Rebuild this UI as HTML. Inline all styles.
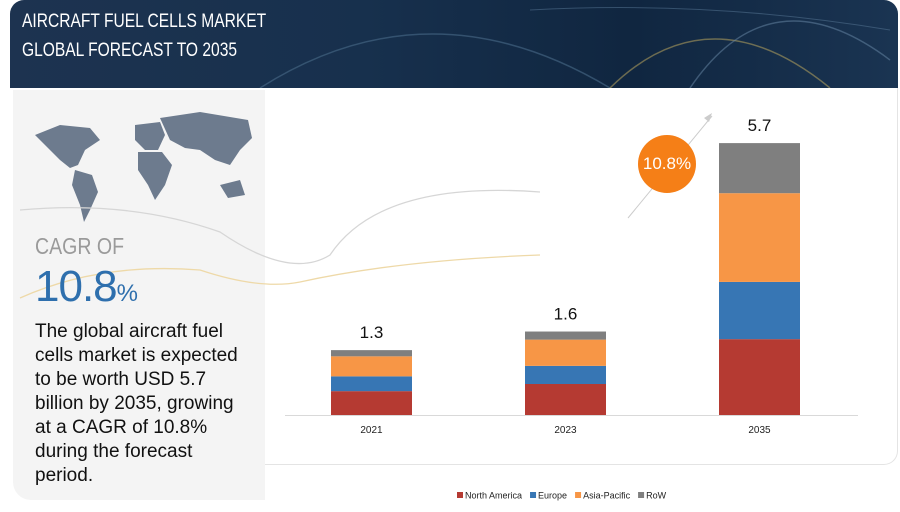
<!DOCTYPE html>
<html><head><meta charset="utf-8"><style>
body{margin:0;width:900px;height:512px;background:#fff;font-family:"Liberation Sans",sans-serif;overflow:hidden;position:relative}
.hdr{position:absolute;left:10px;top:0;width:888px;height:88px;border-radius:14px 14px 0 0;background:linear-gradient(90deg,#1d3350,#17304d 40%,#102640 70%,#1a3452);overflow:hidden}
.hdr .t{position:absolute;left:12px;color:#fff;font-size:19px;transform:scaleX(0.82);transform-origin:0 0;white-space:nowrap}
.left{position:absolute;left:13px;top:90px;width:252px;height:410px;background:#f4f4f4;border-radius:0 0 0 18px}
.card{position:absolute;left:265px;top:88px;width:632px;height:376px;background:#fff;border-right:1px solid #e4e4e4;border-bottom:1px solid #e4e4e4;border-radius:0 0 14px 0}
.desc{position:absolute;left:35px;top:320px;width:218px;font-size:19px;line-height:24px;color:#111}
</style></head><body>
<div class="hdr">
<svg width="888" height="88" style="position:absolute;left:0;top:0">
<path d="M250 88 Q420 -20 600 88" stroke="#4a6a88" fill="none" stroke-width="1.5" opacity=".6"/>
<path d="M600 88 Q700 -10 820 88" stroke="#c8b060" fill="none" stroke-width="1.5" opacity=".5"/>
<path d="M680 88 Q760 -30 880 60" stroke="#6a8aa8" fill="none" stroke-width="1.5" opacity=".5"/>
<path d="M520 10 Q700 0 880 30" stroke="#5a7a98" fill="none" stroke-width="1" opacity=".5"/>
</svg>
<div class="t" style="top:11px">AIRCRAFT FUEL CELLS MARKET</div>
<div class="t" style="top:40px">GLOBAL FORECAST TO 2035</div>
</div>
<div class="left"></div>
<div class="card"></div>
<svg width="900" height="512" style="position:absolute;left:0;top:0">
<g fill="#6d7b8e">
<path d="M35 135 L60 125 L90 128 L100 140 L85 150 L78 165 L70 168 L60 160 L48 148 Z"/>
<path d="M75 170 L92 175 L98 192 L90 210 L84 222 L80 205 L72 185 Z"/>
<path d="M135 125 L160 122 L165 135 L158 150 L145 150 L135 140 Z"/>
<path d="M138 152 L162 152 L172 165 L165 185 L155 200 L148 185 L138 170 Z"/>
<path d="M160 118 L200 112 L248 120 L252 138 L240 150 L230 165 L215 160 L200 150 L185 148 L170 140 Z"/>
<path d="M220 185 L240 180 L245 195 L228 198 Z"/>
</g>
<path d="M20 210 Q130 200 220 232 Q290 280 330 255 Q380 180 540 192" stroke="#d6d6d6" fill="none" stroke-width="1.3"/>
<path d="M20 298 Q100 262 200 270 Q260 290 300 282 Q400 260 540 255" stroke="#eed9a8" fill="none" stroke-width="1.3"/>
<line x1="628" y1="218" x2="712" y2="116" stroke="#ccc" stroke-width="1"/>
<polygon points="712,113 704,118 709,122" fill="#ccc"/>
</svg>
<div style="position:absolute;left:35px;top:233px;font-size:23px;color:#9a9a9a;transform:scaleX(0.85);transform-origin:0 0">CAGR OF</div>
<div style="position:absolute;left:35px;top:262px;font-size:44px;color:#2e6fad;letter-spacing:-1px">10.8<span style="font-size:24px">%</span></div>
<div class="desc">The global aircraft fuel cells market is expected to be worth USD 5.7 billion by 2035, growing at a CAGR of 10.8% during the forecast period.</div>
<div style="position:absolute;left:638px;top:135px;width:58px;height:58px;border-radius:50%;background:#f57f17;color:#fff;font-size:17px;line-height:58px;text-align:center">10.8%</div>
<svg id="chart" width="900" height="512" style="position:absolute;left:0;top:0"></svg>
<script>
const categories=["2021","2023","2035"];
const northAmerica=[0.5,0.65,1.59];
const europe=[0.31,0.38,1.2];
const asiaPacific=[0.42,0.55,1.86];
const row=[0.13,0.17,1.05];
const totals=["1.3","1.6","5.7"];
const seriesNames=["North America","Europe","Asia-Pacific","RoW"];
const colors=["#b53a32","#3776b4","#f79646","#7f7f7f"];
const svg=document.getElementById('chart');const NS='http://www.w3.org/2000/svg';
const base=415,scale=47.7,x0=331,step=194,bw=81;
const yv=v=>base-v*scale;const xc=i=>x0+i*step;
function mk(t,a){const e=document.createElementNS(NS,t);for(const k in a)e.setAttribute(k,a[k]);svg.appendChild(e);return e;}
const series=[northAmerica,europe,asiaPacific,row];
const ax=mk('line',{x1:285,x2:858,y1:base+0.5,y2:base+0.5,stroke:'#d9d9d9'});


categories.forEach((c,i)=>{let cum=0;
series.forEach((s,j)=>{const r=mk('rect',{x:xc(i),width:bw,y:yv(cum+s[i]),height:s[i]*scale,fill:colors[j]});

cum+=s[i];});
const t=mk('text',{x:xc(i)+bw/2,y:yv(cum)-12,'text-anchor':'middle','font-size':17,fill:'#111'});t.textContent=totals[i];


const l=mk('text',{x:xc(i)+bw/2,y:433,'text-anchor':'middle','font-size':10,fill:'#222'});l.textContent=c;

});
let lx=457;seriesNames.forEach((n,j)=>{
const sw=mk('rect',{x:lx,y:492,width:6,height:6,fill:colors[j]});


const t=mk('text',{x:lx+8,y:498.5,'font-size':9,fill:'#222'});t.textContent=n;


lx+=8+t.getComputedTextLength()+8;});
</script>
</body></html>
